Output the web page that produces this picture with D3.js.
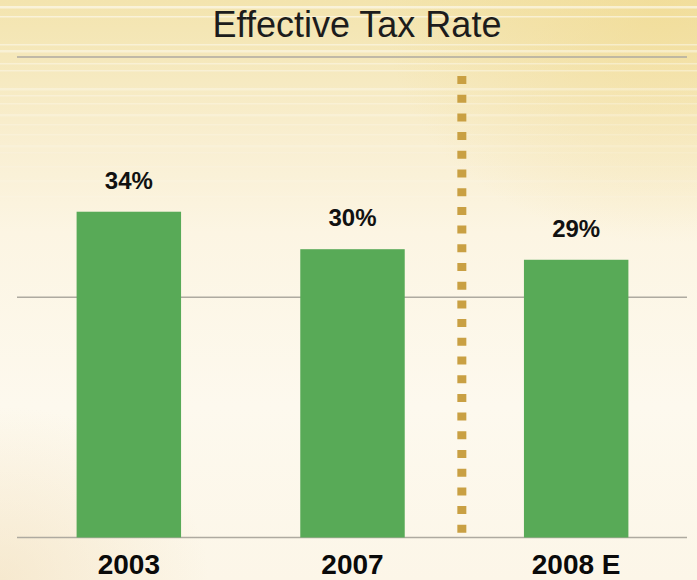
<!DOCTYPE html>
<html>
<head>
<meta charset="utf-8">
<script src="https://cdn.jsdelivr.net/npm/d3@7"></script>
<style>
  html, body { margin: 0; padding: 0; background: #fcf6e8; }
  svg { display: block; }
</style>
</head>
<body>
<svg id="chart" width="697" height="580"></svg>
<script>
// ---- data ----
const categories = ["2003", "2007", "2008 E"];
const taxRates = [33.9, 30.0, 28.9];
const valueLabels = ["34%", "30%", "29%"];
const gridValues = [0, 25, 50];
const chartTitle = "Effective Tax Rate";

const W = 697, H = 580;
const svg = d3.select("#chart");
const defs = svg.append("defs");

// background gradients
const lg = defs.append("linearGradient").attr("id", "bg").attr("x1", 0).attr("y1", 0).attr("x2", 0).attr("y2", 1);
[[0, "#f3e4ae"], [0.1, "#f5e8bb"], [0.25, "#f9efd2"], [0.4, "#fcf5e3"], [0.7, "#fdf9ee"], [1, "#fcf6e8"]]
  .forEach(([o, c]) => lg.append("stop").attr("offset", o).attr("stop-color", c));
const rg = defs.append("radialGradient").attr("id", "tr").attr("cx", 0.95).attr("cy", 0.02).attr("r", 0.4);
rg.append("stop").attr("offset", 0).attr("stop-color", "#f0d88a").attr("stop-opacity", 0.55);
rg.append("stop").attr("offset", 1).attr("stop-color", "#f0d88a").attr("stop-opacity", 0);
const rg2 = defs.append("radialGradient").attr("id", "bl").attr("cx", 0).attr("cy", 1).attr("r", 0.3);
rg2.append("stop").attr("offset", 0).attr("stop-color", "#efd9b0").attr("stop-opacity", 0.45);
rg2.append("stop").attr("offset", 1).attr("stop-color", "#efd9b0").attr("stop-opacity", 0);

svg.append("rect").attr("width", W).attr("height", H).attr("fill", "url(#bg)");
svg.append("rect").attr("width", W).attr("height", H).attr("fill", "url(#tr)");
svg.append("rect").attr("width", W).attr("height", H).attr("fill", "url(#bl)");

// decorative horizontal streaks
const streaks = [6, 16, 44, 50, 63, 70, 88, 95, 103, 114, 124, 134, 145, 152, 166, 180, 196];
svg.append("g").selectAll("rect").data(streaks).join("rect")
  .attr("x", 0).attr("width", W)
  .attr("y", d => d).attr("height", (d, i) => i % 3 === 0 ? 2.5 : 1.5)
  .attr("fill", "#ffffff")
  .attr("opacity", d => Math.max(0.1, 0.55 - d / 350));

// scales
const x = d3.scaleBand().domain(categories).range([17, 688]).paddingInner(0.533).paddingOuter(0.2665);
const y = d3.scaleLinear().domain([0, 50]).range([537.5, 57]);

// gridlines
svg.append("g").selectAll("line").data(gridValues).join("line")
  .attr("x1", 17).attr("x2", 687)
  .attr("y1", d => y(d)).attr("y2", d => y(d))
  .attr("stroke", "#aeaaa0").attr("stroke-width", 1.5);

// divider between actual and estimate
const divX = (x(categories[1]) + x.bandwidth() + x(categories[2])) / 2 - 2.5;
svg.append("line")
  .attr("x1", divX).attr("x2", divX)
  .attr("y1", 76).attr("y2", 535)
  .attr("stroke", "#c9a043").attr("stroke-width", 9)
  .attr("stroke-dasharray", "8 10.7");

// bars
svg.append("g").selectAll("rect").data(categories).join("rect")
  .attr("x", d => x(d)).attr("width", x.bandwidth())
  .attr("y", (d, i) => y(taxRates[i]))
  .attr("height", (d, i) => y(0) - y(taxRates[i]))
  .attr("fill", "#58aa57");

// value labels
svg.append("g").selectAll("text").data(categories).join("text")
  .attr("x", d => x(d) + x.bandwidth() / 2)
  .attr("y", (d, i) => y(taxRates[i]) - 23)
  .attr("text-anchor", "middle")
  .attr("font-family", "Liberation Sans, Arial, sans-serif")
  .attr("font-weight", "bold").attr("font-size", 24)
  .attr("fill", "#111")
  .text((d, i) => valueLabels[i]);

// category labels
svg.append("g").selectAll("text").data(categories).join("text")
  .attr("x", d => x(d) + x.bandwidth() / 2)
  .attr("y", 574)
  .attr("text-anchor", "middle")
  .attr("font-family", "Liberation Sans, Arial, sans-serif")
  .attr("font-weight", "bold").attr("font-size", 28)
  .attr("fill", "#0a0a0a")
  .text(d => d);

// title
svg.append("text")
  .attr("x", 357).attr("y", 37)
  .attr("text-anchor", "middle")
  .attr("font-family", "Liberation Sans, Arial, sans-serif")
  .attr("font-size", 36)
  .attr("fill", "#1c1c1c")
  .text(chartTitle);
</script>
</body>
</html>
